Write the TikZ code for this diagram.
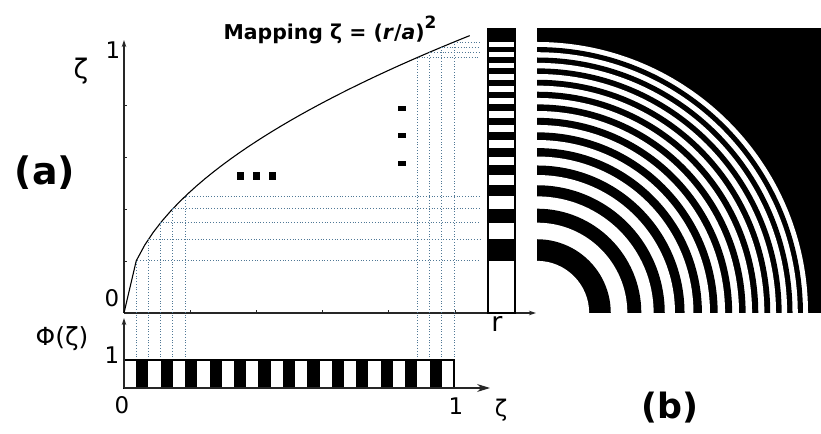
\documentclass[tikz,border=0pt]{standalone}
\usepackage{fontspec}
\setmainfont{DejaVu Sans}
\usepackage{xcolor}
\usetikzlibrary{arrows.meta,positioning,calc}

\definecolor{guidecol}{RGB}{80,120,150}

\begin{document}
\begin{tikzpicture}[
  x=1bp, y=-1bp,
  axis/.style={draw=black!85, line width=1.2pt},
  tip/.style={-{Stealth[length=7pt,width=4.5pt]}},
  bigtip/.style={-{Stealth[length=13pt,width=8pt]}},
  guide/.style={draw=guidecol, dotted, line width=0.8pt},
  frame/.style={draw=black, line width=1.3pt},
  lbl/.style={inner sep=0pt, font=\fontsize{23}{27}\selectfont},
  panel/.style={inner sep=0pt, font=\fontsize{38}{44}\selectfont\bfseries}
]
\useasboundingbox (0,0) rectangle (821,434);

% Upper axes
\coordinate (O) at (124,313);
\coordinate (ytop) at (124,40);
\coordinate (xend) at (536,313);
\draw[axis, tip] (O) -- (ytop);
\draw[axis, tip] (O) -- (xend);
\foreach \i in {1,...,5} \draw[axis, line width=0.7pt] ($(O)+(66.2*\i,0)$) -- ++(0,-3);
\foreach \i in {1,...,4} \draw[axis, line width=0.7pt] ($(O)+(0,-52*\i)$) -- ++(3,0);

% Mapping curve
\draw[line width=1.1pt] (O) -- plot[domain=0.037:1.048, samples=40] ({124+330*\x},{313-271*sqrt(\x)});

% Guide lines from the stripes to the curve and on to the bar
\foreach \k in {1,2,3,4,5,24,25,26,27} {
  \pgfmathsetmacro\gx{124+330*\k/27}
  \pgfmathsetmacro\gy{313-271*sqrt(\k/27)}
  \coordinate (c\k) at (\gx,\gy);
  \coordinate (h\k) at (480,\gy);
  \coordinate (v\k) at (\gx,360);
  \draw[guide] (v\k) -- (c\k) -- (h\k);
}

% Dots
\foreach \x in {237,253,269} \fill (\x,172) rectangle ++(7,8);
\foreach \y in {106,133,161} \fill (398,\y) rectangle ++(8,5);

% Radial profile bar
\foreach \k in {1,3,...,25} {
  \pgfmathsetmacro\ya{313-271*sqrt(\k/27)}
  \pgfmathsetmacro\yb{313-271*sqrt((\k+1)/27)}
  \fill (488,\ya) rectangle (515,\yb);
}
\fill (488,42) rectangle (515,29);
\draw[frame] (488,313) rectangle (515,29);

% Lower plot: stripe pattern
\coordinate (L) at (124,388);
\foreach \k in {1,3,...,25} \fill ({124+330*\k/27},360) rectangle ({124+330*(\k+1)/27},388);
\draw[frame] (L) rectangle (454,360);
\draw[axis, tip] (L) -- (124,318);
\draw[axis, bigtip] (L) -- (490,388);

% Panel (b): rings
\begin{scope}
  \clip (537,28) rectangle (821,313);
  \fill (537,28) rectangle (821,313);
  \foreach \k in {27,26,...,1} {
    \pgfmathsetmacro\rr{271*sqrt(\k/27)}
    \ifodd\k\def\ringcol{white}\else\def\ringcol{black}\fi
    \fill[\ringcol] (537,313) circle[radius=\rr bp];
  }
\end{scope}

% Labels
\node[lbl, font=\fontsize{27}{31}\selectfont] (zup) at (81,71) {ζ};
\node[lbl] (oneup) at (113,50) {1};
\node[lbl] (zeroup) at (112,298) {0};
\node[panel] (pa) at (45,173) {(a)};
\node[inner sep=0pt, font=\fontsize{20.5}{24}\selectfont\bfseries] (title) at (330,30)
  {Mapping ζ = (\textit{r}/\textit{a})\raisebox{0.5em}{\fontsize{17}{17}\selectfont 2}};
\node[lbl, font=\fontsize{27}{31}\selectfont] (rlab) at (497,324) {r};
\node[lbl, font=\fontsize{25}{29}\selectfont] (phi) at (62,339) {Φ(ζ)};
\node[lbl] (onelow) at (112,355) {1};
\node[lbl] (zerolow) at (122,405) {0};
\node[lbl] (onex) at (456,406) {1};
\node[lbl] (zlow) at (501,410) {ζ};
\node[panel, font=\fontsize{35}{40}\selectfont\bfseries] (pb) at (670,408) {(b)};

\end{tikzpicture}
\end{document}
